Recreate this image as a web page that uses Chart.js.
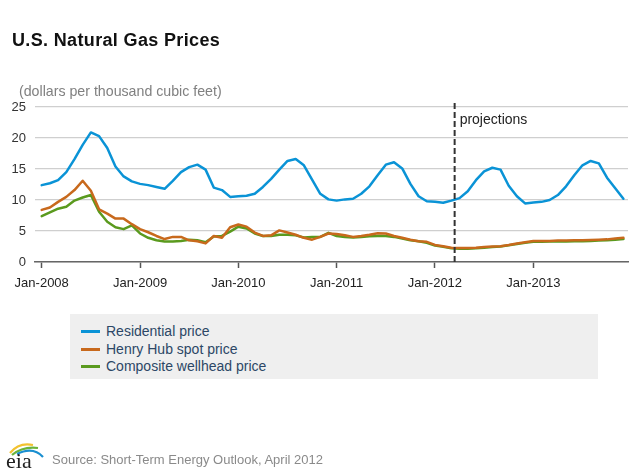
<!DOCTYPE html>
<html>
<head>
<meta charset="utf-8">
<script src="https://cdn.jsdelivr.net/npm/chart.js@4.4.1/dist/chart.umd.min.js"></script>
<style>
  html, body { margin: 0; padding: 0; background: #fff; }
  body { width: 640px; height: 476px; position: relative; overflow: hidden; font-family: "Liberation Sans", Arial, sans-serif; }
  #wrap { position: absolute; left: 0; top: 0; width: 640px; height: 476px; }
  .abs { position: absolute; white-space: nowrap; }
  #title { left: 12px; top: 30px; font-size: 18px; letter-spacing: 0.35px; font-weight: bold; color: #111; }
  #subtitle { left: 19px; top: 83px; font-size: 14.2px; color: #808080; }
  #legend { left: 70px; top: 314px; width: 528px; height: 65px; background: #efefef; }
  .li { position: absolute; left: 0; height: 18px; font-size: 14px; color: #2c4766; }
  .sw { position: absolute; left: 11px; top: 8px; width: 19px; height: 2.5px; }
  .lt { position: absolute; left: 36px; top: 0; line-height: 18px; }
  #source { left: 52px; top: 452px; font-size: 13px; color: #8a8a8a; }
  #logo { left: 3px; top: 438px; }
</style>
</head>
<body>
<div id="wrap"><canvas id="c" width="640" height="476"></canvas></div>
<div class="abs" id="title">U.S. Natural Gas Prices</div>
<div class="abs" id="subtitle">(dollars per thousand cubic feet)</div>
<div class="abs" id="legend">
  <div class="li" style="top:8px"><div class="sw" style="background:#0a93d6"></div><div class="lt">Residential price</div></div>
  <div class="li" style="top:26px"><div class="sw" style="background:#c8691c"></div><div class="lt">Henry Hub spot price</div></div>
  <div class="li" style="top:43px"><div class="sw" style="background:#5a9a1e"></div><div class="lt">Composite wellhead price</div></div>
</div>
<div class="abs" id="source">Source: Short-Term Energy Outlook, April 2012</div>
<svg class="abs" id="logo" width="46" height="34" viewBox="0 0 46 34">
  <path d="M7 15 Q16 4 30 7" stroke="#f2c230" stroke-width="2.2" fill="none"/>
  <path d="M9 17 Q20 8 35 10" stroke="#6bb33a" stroke-width="2.2" fill="none"/>
  <path d="M14 16 Q30 8 40 19" stroke="#1a8fd0" stroke-width="2.2" fill="none"/>
  <text x="3" y="30" font-family="Liberation Serif, DejaVu Serif, serif" font-size="22" fill="#222">eia</text>
</svg>
<script>
// ---- data ----
const tickLabels = ['Jan-2008', 'Jan-2009', 'Jan-2010', 'Jan-2011', 'Jan-2012', 'Jan-2013'];
const tickMonths = [0, 12, 24, 36, 48, 60];
const projectionStart = 50.4; // month index where projections begin
const residential = [
  12.4, 12.7, 13.2, 14.5, 16.6, 18.9, 20.9, 20.3, 18.4, 15.4, 13.8, 13.0,
  12.6, 12.4, 12.1, 11.8, 13.1, 14.5, 15.3, 15.7, 14.9, 12.0, 11.6, 10.5,
  10.6, 10.7, 11.0, 12.1, 13.4, 14.9, 16.3, 16.6, 15.6, 13.3, 11.0, 10.1,
  9.9, 10.1, 10.2, 11.0, 12.2, 14.0, 15.7, 16.1, 15.1, 12.6, 10.6, 9.8,
  9.7, 9.55, 9.9, 10.3, 11.4, 13.2, 14.6, 15.2, 14.9, 12.3, 10.6, 9.45,
  9.6, 9.7, 10.0, 10.8, 12.2, 14.0, 15.6, 16.3, 15.9, 13.6, 11.9, 10.2
];
const henryHub = [
  8.4, 8.8, 9.7, 10.5, 11.6, 13.1, 11.5, 8.5, 7.8, 7.0, 7.0, 6.1,
  5.3, 4.8, 4.2, 3.7, 4.05, 4.05, 3.5, 3.35, 3.0, 4.2, 3.9, 5.6,
  6.05, 5.7, 4.75, 4.2, 4.3, 5.1, 4.75, 4.4, 3.9, 3.6, 4.05, 4.6,
  4.5, 4.3, 4.05, 4.2, 4.4, 4.65, 4.6, 4.2, 3.9, 3.6, 3.35, 3.25,
  2.75, 2.55, 2.3, 2.25, 2.25, 2.3, 2.4, 2.5, 2.55, 2.75, 3.0, 3.2,
  3.4, 3.4, 3.4, 3.45, 3.45, 3.5, 3.5, 3.55, 3.6, 3.65, 3.8, 3.9
];
const wellhead = [
  7.4, 8.0, 8.6, 8.9, 9.9, 10.4, 10.8, 8.1, 6.5, 5.6, 5.3, 5.9,
  4.6, 3.9, 3.5, 3.3, 3.3, 3.4, 3.6, 3.5, 3.2, 4.1, 4.2, 4.9,
  5.7, 5.4, 4.6, 4.2, 4.2, 4.4, 4.4, 4.3, 3.95, 4.05, 4.05, 4.7,
  4.2, 4.05, 3.95, 4.05, 4.15, 4.2, 4.2, 4.05, 3.8, 3.5, 3.35, 3.1,
  2.65, 2.45, 2.2, 2.15, 2.15, 2.2, 2.3, 2.4, 2.5, 2.7, 2.9, 3.1,
  3.25, 3.25, 3.3, 3.3, 3.3, 3.35, 3.35, 3.4, 3.45, 3.5, 3.6, 3.7
];
const yTicks = [0, 5, 10, 15, 20, 25];

const toPts = arr => arr.map((v, i) => ({ x: i, y: v }));

const projectionPlugin = {
  id: 'projection',
  afterDatasetsDraw(chart) {
    const { ctx, chartArea, scales } = chart;
    const x = scales.x.getPixelForValue(projectionStart);
    ctx.save();
    ctx.strokeStyle = '#333';
    ctx.lineWidth = 2;
    ctx.setLineDash([6, 3]);
    ctx.beginPath();
    ctx.moveTo(x, chartArea.top - 4);
    ctx.lineTo(x, chartArea.bottom);
    ctx.stroke();
    ctx.setLineDash([]);
    ctx.fillStyle = '#222';
    ctx.font = '14px "Liberation Sans", Arial, sans-serif';
    ctx.textBaseline = 'middle';
    ctx.textAlign = 'left';
    ctx.fillText('projections', x + 5, chartArea.top + 13);
    ctx.restore();
  }
};

new Chart(document.getElementById('c'), {
  type: 'line',
  data: {
    datasets: [
      { label: 'Residential price', data: toPts(residential), borderColor: '#0a93d6', borderWidth: 2.5 },
      { label: 'Henry Hub spot price', data: toPts(henryHub), borderColor: '#c8691c', borderWidth: 2.5 },
      { label: 'Composite wellhead price', data: toPts(wellhead), borderColor: '#5a9a1e', borderWidth: 2.5 }
    ]
  },
  options: {
    responsive: false,
    animation: false,
    events: [],
    elements: { point: { radius: 0 }, line: { tension: 0, borderJoinStyle: 'round', borderCapStyle: 'round' } },
    layout: { padding: { left: 0, right: 12, top: 107, bottom: 180 } },
    plugins: { legend: { display: false }, tooltip: { enabled: false } },
    scales: {
      x: {
        type: 'linear',
        min: -0.82,
        max: 71.56,
        afterBuildTicks: s => { s.ticks = tickMonths.map(v => ({ value: v })); },
        afterFit: s => { s.height = 34; },
        grid: { drawOnChartArea: false, drawTicks: true, tickLength: 6, tickColor: '#555', tickWidth: 1.5 },
        border: { display: true, color: '#666', width: 1.5 },
        ticks: {
          autoSkip: false, maxRotation: 0, padding: 8,
          color: '#222',
          font: { family: '"Liberation Sans", Arial, sans-serif', size: 13 },
          callback: v => tickLabels[tickMonths.indexOf(v)]
        }
      },
      y: {
        min: 0,
        max: 25,
        afterBuildTicks: s => { s.ticks = yTicks.map(v => ({ value: v })); },
        afterFit: s => { s.width = 35; },
        grid: { color: '#cfcfcf', lineWidth: 1.2, drawTicks: false },
        border: { display: false },
        ticks: {
          padding: 9,
          color: '#333',
          font: { family: '"Liberation Sans", Arial, sans-serif', size: 13 }
        }
      }
    }
  },
  plugins: [projectionPlugin]
});
</script>
</body>
</html>
